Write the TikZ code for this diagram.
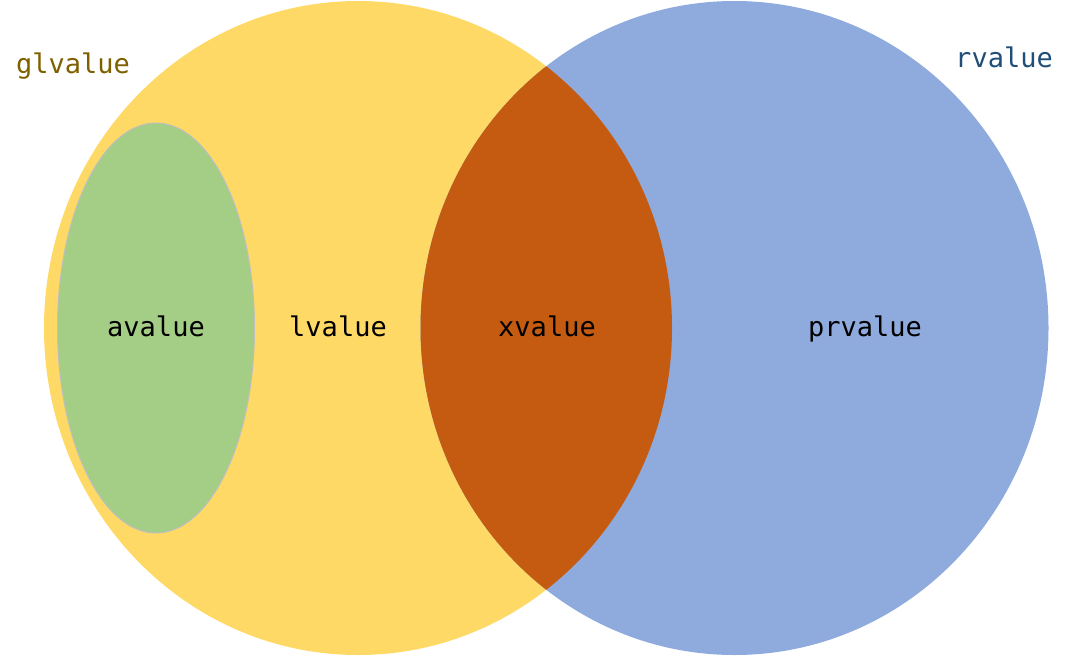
\documentclass[tikz,border=0pt]{standalone}
\usepackage{fontspec}
\setmonofont{DejaVu Sans Mono}
\definecolor{yel}{HTML}{FFD966}
\definecolor{blu}{HTML}{8FAADC}
\definecolor{grn}{HTML}{A4CD86}
\definecolor{org}{HTML}{C55A11}
\definecolor{glcol}{HTML}{7F6000}
\definecolor{rcol}{HTML}{1F4E79}
\tikzset{lab/.style={font=\ttfamily\fontsize{27}{30}\selectfont, inner sep=0pt, anchor=base}}
\begin{document}
\begin{tikzpicture}[x=1pt,y=-1pt]
\useasboundingbox (0,0) rectangle (1070,656);
\fill[yel] (358,328) ellipse [x radius=314, y radius=327];
\fill[blu] (734.5,328) ellipse [x radius=314, y radius=327];
\begin{scope}
\clip (358,328) ellipse [x radius=314, y radius=327];
\fill[org] (734.5,328) ellipse [x radius=314, y radius=327];
\end{scope}
\fill[grn, draw=black!25, line width=1pt] (156,328) ellipse [x radius=98.5, y radius=205];
\node[lab] (av) at (156,336) {avalue};
\node[lab] (lv) at (338,336) {lvalue};
\node[lab] (xv) at (547,336) {xvalue};
\node[lab] (pv) at (865,336) {prvalue};
\node[lab, text=glcol] (gl) at (73,73) {glvalue};
\node[lab, text=rcol] (rv) at (1004,67) {rvalue};
\end{tikzpicture}
\end{document}
